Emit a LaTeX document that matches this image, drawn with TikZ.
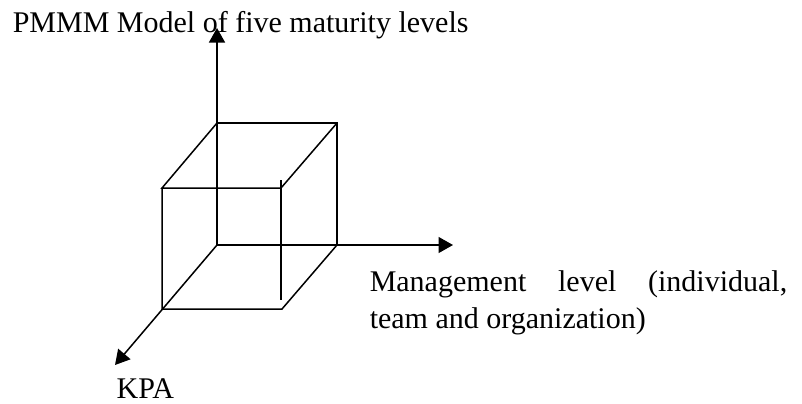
\documentclass[tikz,border=0pt]{standalone}
\usepackage{fontspec}
\setmainfont{Liberation Serif}
\usetikzlibrary{arrows.meta}

\begin{document}
\begin{tikzpicture}[>={Triangle[length=5.8pt,width=6.4pt]},x=0.4pt,y=0.4pt,
  line width=0.6pt,
  every node/.style={font=\fontsize{12pt}{14.6pt}\selectfont,inner sep=0pt}]
\useasboundingbox (0,0) rectangle (802,403);
% back face
\coordinate (o) at (217,158);
\coordinate (bbr) at (337,158);
\coordinate (btr) at (337,280);
\coordinate (btl) at (217,280);
% front face
\coordinate (fbl) at (162,94);
\coordinate (fbr) at (282,94);
\coordinate (ftr) at (281,215);
\coordinate (ftl) at (162,215);
\coordinate (fru) at (281,223);
\coordinate (frd) at (281,103);
% axis tips
\coordinate (ytip) at (217,375);
\coordinate (xtip) at (453,158);
\coordinate (ztip) at (115,38);
% axes
\draw[->] (o) -- (ytip);
\draw[->] (o) -- (xtip);
\draw[->] (o) -- (ztip);
% cube
\draw (btl) -- (btr) -- (bbr);
\draw (btl) -- (ftl) -- (ftr) -- (btr);
\draw (ftl) -- (fbl) -- (fbr) -- (bbr);
\draw (fru) -- (frd);
% labels
\node[anchor=base west] (title) at (12,371) {PMMM Model of five maturity levels};
\node[anchor=base west,align=left] (mgmt) at (369,75)
  {\makebox[167pt][s]{Management level (individual,}\\team and organization)};
\node[anchor=base west] (kpa) at (116,5) {KPA};
\end{tikzpicture}
\end{document}
